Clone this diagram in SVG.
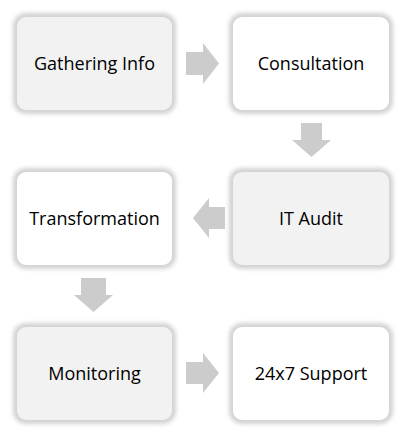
<svg xmlns="http://www.w3.org/2000/svg" width="406" height="437" viewBox="0 0 406 437">
<defs>
<filter id="glow" x="-20%" y="-20%" width="140%" height="140%"><feGaussianBlur stdDeviation="2"/></filter>
<style>
.halo{fill:none;stroke:#d2d2d2;stroke-width:8;filter:url(#glow)}
.grey{fill:#f2f2f2}
.white{fill:#ffffff}
.lbl{font-family:"Open Sans","Liberation Sans",sans-serif;font-size:18px;fill:#000;text-anchor:middle;dominant-baseline:central}
.arr{fill:#cccccc}
</style>
</defs>
<rect width="406" height="437" fill="#ffffff"/>
<g id="connectors">
<polygon class="arr" points="186,52 203,52 203,43 219,63.5 203,84 203,75 186,75"/>
<polygon class="arr" points="301,123 322,123 322,140 331,140 311.5,157 292,140 301,140"/>
<polygon class="arr" points="225,207 209,207 209,198 193,218 209,238 209,229 225,229"/>
<polygon class="arr" points="81,278 106,278 106,295 113,295 93.5,312 74,295 81,295"/>
<polygon class="arr" points="186,362 203,362 203,353 219,373 203,393 203,384 186,384"/>
</g>
<g id="gathering">
<rect class="halo" x="17" y="17" width="155" height="93" rx="9"/>
<rect class="grey" x="17" y="17" width="155" height="93" rx="9"/>
<text class="lbl" x="94.5" y="62.5">Gathering Info</text>
</g>
<g id="consultation">
<rect class="halo" x="233" y="17" width="156" height="93" rx="9"/>
<rect class="white" x="233" y="17" width="156" height="93" rx="9"/>
<text class="lbl" x="311" y="62.5">Consultation</text>
</g>
<g id="itaudit">
<rect class="halo" x="233" y="172" width="156" height="93" rx="9"/>
<rect class="grey" x="233" y="172" width="156" height="93" rx="9"/>
<text class="lbl" x="311" y="217.5">IT Audit</text>
</g>
<g id="transformation">
<rect class="halo" x="17" y="172" width="155" height="93" rx="9"/>
<rect class="white" x="17" y="172" width="155" height="93" rx="9"/>
<text class="lbl" x="94.5" y="217.5">Transformation</text>
</g>
<g id="monitoring">
<rect class="halo" x="17" y="327" width="155" height="93" rx="9"/>
<rect class="grey" x="17" y="327" width="155" height="93" rx="9"/>
<text class="lbl" x="94.5" y="372.5">Monitoring</text>
</g>
<g id="support">
<rect class="halo" x="233" y="327" width="156" height="93" rx="9"/>
<rect class="white" x="233" y="327" width="156" height="93" rx="9"/>
<text class="lbl" x="311" y="372.5">24x7 Support</text>
</g>
</svg>
